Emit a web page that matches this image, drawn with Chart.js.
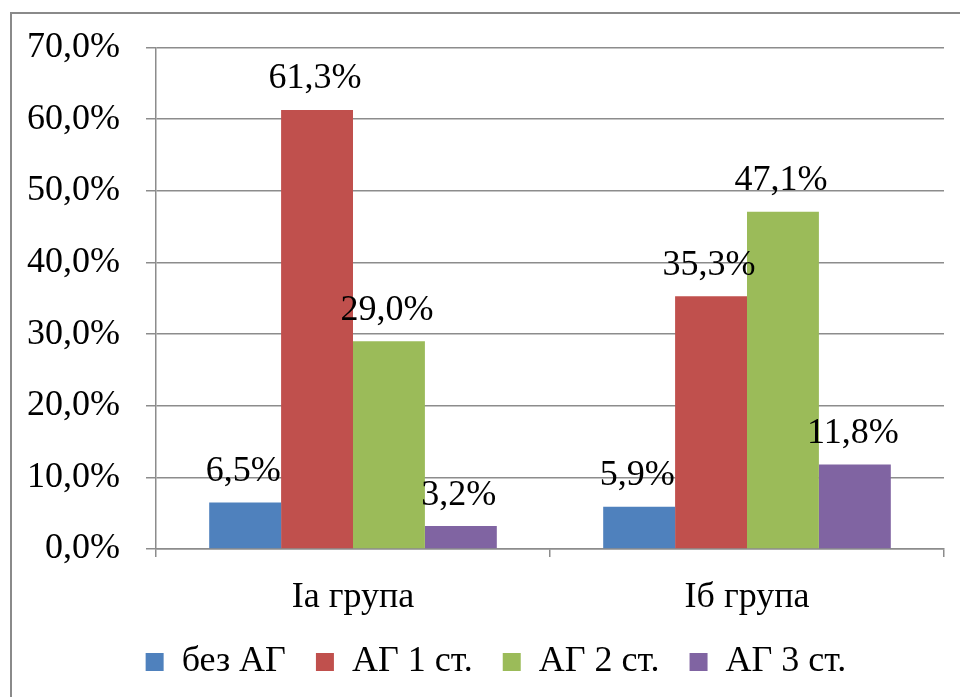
<!DOCTYPE html>
<html><head><meta charset="utf-8">
<script src="https://cdn.jsdelivr.net/npm/chart.js@4.4.1/dist/chart.umd.min.js"></script>
<style>
html,body{margin:0;padding:0;background:#fff;}
#wrap{position:relative;width:960px;height:697px;overflow:hidden;}
#frame{position:absolute;left:10px;top:12px;width:1000px;height:800px;border:2px solid #8a8a8a;box-sizing:border-box;}
canvas{position:absolute;left:0;top:0;}
</style></head>
<body><div id="wrap"><div id="frame"></div><canvas id="c" width="960" height="697"></canvas></div>
<script>
const categories = ['Іа група', 'Іб група'];
const seriesNames = ['без АГ', 'АГ 1 ст.', 'АГ 2 ст.', 'АГ 3 ст.'];
const bezAG = [6.5, 5.9];
const ag1 = [61.3, 35.3];
const ag2 = [29.0, 47.1];
const ag3 = [3.2, 11.8];
const colors = ['#4F81BD', '#C0504D', '#9BBB59', '#8064A2'];
const yMin = 0, yMax = 70, yStep = 10;

const FONT = '"Liberation Serif", "Times New Roman", serif';
const FS = 36;
const fmt = v => v.toFixed(1).replace('.', ',') + '%';

const labelPlugin = {
  id: 'valueLabels',
  afterInit(chart) {
    const lg = chart.legend;
    if (lg) {
      const origFit = lg.fit.bind(lg);
      lg.fit = function () { origFit(); this.height = 64; };
      const origDraw = lg.draw.bind(lg);
      lg.draw = function () {
        const c = this.ctx;
        c.save();
        c.translate(24, -9);
        origDraw();
        c.restore();
      };
    }
  },
  afterDatasetsDraw(chart) {
    const ctx = chart.ctx;
    ctx.save();
    ctx.font = FS + 'px ' + FONT;
    ctx.fillStyle = '#000';
    ctx.textAlign = 'center';
    ctx.textBaseline = 'middle';
    chart.data.datasets.forEach((ds, i) => {
      chart.getDatasetMeta(i).data.forEach((bar, j) => {
        ctx.fillText(fmt(ds.data[j]), bar.x - 2, bar.y - 31);
      });
    });
    ctx.restore();
  }
};

const datasetsData = [bezAG, ag1, ag2, ag3];
new Chart(document.getElementById('c'), {
  type: 'bar',
  data: {
    labels: categories,
    datasets: datasetsData.map((d, i) => ({
      label: seriesNames[i], data: d, backgroundColor: colors[i],
      borderWidth: 0, categoryPercentage: 0.73, barPercentage: 1.0
    }))
  },
  options: {
    responsive: false, animation: false,
    layout: { padding: { top: 46, right: 16, left: 0, bottom: 10 } },
    plugins: {
      tooltip: { enabled: false },
      legend: {
        position: 'bottom',
        labels: { font: { family: FONT, size: FS }, color: '#000', boxWidth: 18, boxHeight: 18, padding: 30 }
      }
    },
    scales: {
      y: {
        min: yMin, max: yMax,
        ticks: { stepSize: yStep, font: { family: FONT, size: FS }, color: '#000', padding: 26,
          callback: v => fmt(v) },
        grid: { color: '#8c8c8c', lineWidth: 1.5, tickLength: 10 },
        border: { color: '#8c8c8c', width: 1.5 },
        afterFit(s) { s.width = 156; }
      },
      x: {
        ticks: { font: { family: FONT, size: FS }, color: '#000', padding: 19 },
        grid: { drawOnChartArea: false, color: '#8c8c8c', lineWidth: 1.5, tickLength: 8 },
        border: { color: '#8c8c8c', width: 1.5 },
        afterFit(s) { s.height = 74; }
      }
    }
  },
  plugins: [labelPlugin]
});
</script></body></html>
